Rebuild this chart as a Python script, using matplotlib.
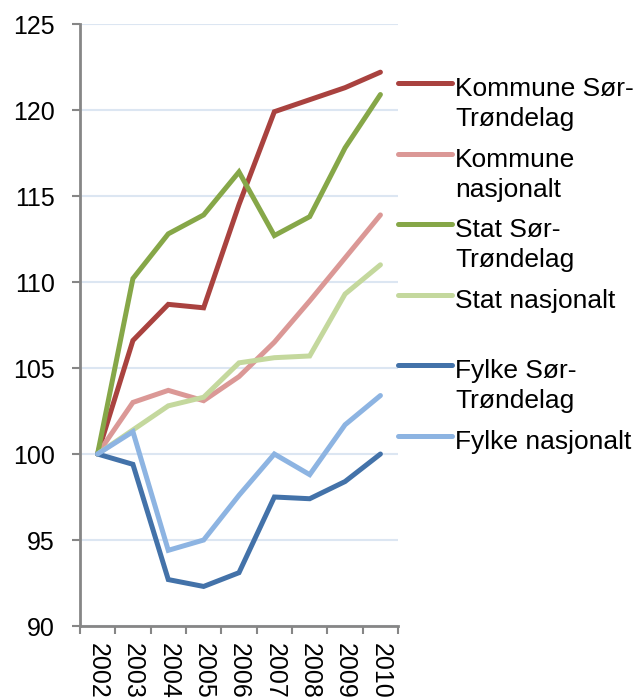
import matplotlib
matplotlib.use("Agg")
import matplotlib.pyplot as plt
from matplotlib.lines import Line2D

plt.rcParams['font.family'] = ['Liberation Sans', 'DejaVu Sans']

# Data (indeks, 2002 = 100)
years = ["2002", "2003", "2004", "2005", "2006", "2007", "2008", "2009", "2010"]
kommune_st = [100, 106.6, 108.7, 108.5, 114.5, 119.9, 120.6, 121.3, 122.2]
kommune_nasj = [100, 103.0, 103.7, 103.1, 104.5, 106.5, 108.9, 111.4, 113.9]
stat_st = [100, 110.2, 112.8, 113.9, 116.4, 112.7, 113.8, 117.8, 120.9]
stat_nasj = [100, 101.4, 102.8, 103.3, 105.3, 105.6, 105.7, 109.3, 111.0]
fylke_st = [100, 99.4, 92.7, 92.3, 93.1, 97.5, 97.4, 98.4, 100.0]
fylke_nasj = [100, 101.3, 94.4, 95.0, 97.6, 100.0, 98.8, 101.7, 103.4]

labels = ["Kommune Sør-\nTrøndelag", "Kommune\nnasjonalt", "Stat Sør-\nTrøndelag",
          "Stat nasjonalt", "Fylke Sør-\nTrøndelag", "Fylke nasjonalt"]
series = [kommune_st, kommune_nasj, stat_st, stat_nasj, fylke_st, fylke_nasj]
colors = ["#A9423F", "#DB9896", "#86A748", "#C4D89D", "#4372A9", "#8DB4E2"]

fig = plt.figure(figsize=(6.39, 7.0), dpi=100)
ax = fig.add_axes([0.125, 0.1057, 0.498, 0.86])

x = list(range(len(years)))
for vals, col in zip(series, colors):
    ax.plot(x, vals, color=col, lw=3.6, solid_capstyle='round', solid_joinstyle='miter', zorder=3)

ax.set_xlim(-0.5, len(years) - 0.5)
ax.set_ylim(90, 125)
ax.set_yticks(range(90, 126, 5))
ax.yaxis.grid(True, color="#DCE6F2", lw=1.5, zorder=0)
ax.set_axisbelow(True)

# ticks between categories, labels at category centres
ax.set_xticks([i - 0.5 for i in range(len(years) + 1)])
ax.set_xticklabels([])
ax.set_xticks(x, minor=True)
ax.set_xticklabels(years, minor=True, rotation=-90, va='top', ha='center')
ax.tick_params(axis='x', which='minor', length=0, pad=12, labelsize=18)
ax.tick_params(axis='x', which='major', length=6, width=1.5, color="#868686", direction='out')
ax.tick_params(axis='y', length=6, width=1.5, color="#868686", direction='out', labelsize=18, pad=12)

for s in ['top', 'right']:
    ax.spines[s].set_visible(False)
for s in ['left', 'bottom']:
    ax.spines[s].set_color("#868686")
    ax.spines[s].set_linewidth(2)

# legend drawn beside the plot, one slot per series
W, H = 639.0, 700.0
y0 = 83
step = 70.6
for i, (lab, col) in enumerate(zip(labels, colors)):
    ly = y0 + i * step
    fig.add_artist(Line2D([398 / W, 452 / W], [1 - ly / H, 1 - ly / H], color=col, lw=3.6,
                          solid_capstyle='round', transform=fig.transFigure))
    for j, part in enumerate(lab.split("\n")):
        fig.text(455 / W, 1 - (ly + 13 + j * 30) / H, part, fontsize=19,
                 va='baseline', ha='left', transform=fig.transFigure)

fig.savefig("out.png", dpi=100)
